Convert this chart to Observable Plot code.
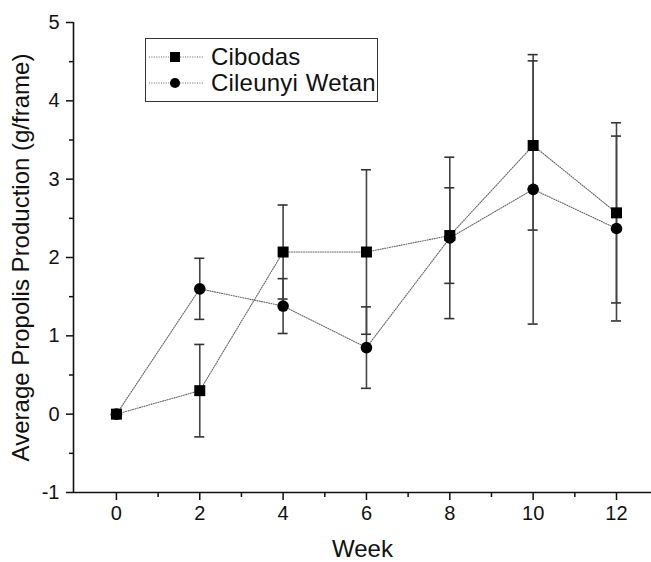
<!DOCTYPE html>
<html><head><meta charset="utf-8">
<script src="https://cdn.jsdelivr.net/npm/d3@7"></script>
<script src="https://cdn.jsdelivr.net/npm/@observablehq/plot@0.6"></script>
<style>
body{margin:0;background:#fff;font-family:"Liberation Sans",Arial,sans-serif}
#wrap{position:relative;width:651px;height:562px}
#legend{position:absolute;left:145px;top:38px;width:233px;height:64px;border:1.5px solid #333;box-sizing:border-box;background:#fff}
#legend .row{position:absolute;left:0;width:230px;height:26px;display:flex;align-items:center;white-space:nowrap}
#legend .row svg{flex:none}
#legend .row span{font-size:24px;color:#111;margin-left:5px;letter-spacing:0.2px;word-spacing:1px;line-height:26px;white-space:nowrap}
</style></head><body><div id="wrap"><div id="legend"></div></div>
<script>
const weeks = [0, 2, 4, 6, 8, 10, 12];
const seriesNames = ["Cibodas", "Cileunyi Wetan"];
const cibodas = [0, 0.30, 2.07, 2.07, 2.28, 3.43, 2.57];
const cibodasErr = [0, 0.59, 0.60, 1.05, 0.61, 1.08, 1.15];
const cileunyi = [0, 1.60, 1.38, 0.85, 2.25, 2.87, 2.37];
const cileunyiErr = [0, 0.39, 0.35, 0.52, 1.03, 1.72, 1.18];
const yTicks = [-1, 0, 1, 2, 3, 4, 5];
const yMinor = [-0.5, 0.5, 1.5, 2.5, 3.5, 4.5];
const xTicks = [0, 2, 4, 6, 8, 10, 12];
const xMinor = [1, 3, 5, 7, 9, 11];
const xDomain = [-1.03, 12.84];
const yDomain = [-1, 5];
const symbols = ["square", "circle"];
const yTitle = "Average Propolis Production (g/frame)";
const xTitle = "Week";

const rows = [];
[[cibodas, cibodasErr], [cileunyi, cileunyiErr]].forEach(([vals, errs], s) => {
  weeks.forEach((w, i) => rows.push({series: seriesNames[s], sym: symbols[s], week: w, value: vals[i], err: errs[i], lo: vals[i] - errs[i], hi: vals[i] + errs[i]}));
});
const withErr = rows.filter(d => d.err > 0);
const fmt = d => String(d);

const chart = Plot.plot({
  width: 651, height: 562,
  marginLeft: 73, marginRight: 0, marginTop: 22, marginBottom: 70,
  style: {fontFamily: "'Liberation Sans', Arial, sans-serif", fontSize: "20px", color: "#111", background: "#fff"},
  x: {domain: xDomain},
  y: {domain: yDomain},
  marks: [
    Plot.ruleX([xDomain[0]], {stroke: "#111", strokeWidth: 1.6}),
    Plot.ruleY([yDomain[0]], {stroke: "#111", strokeWidth: 1.6}),
    Plot.axisY(yTicks, {tickSize: 7, tickPadding: 7, strokeWidth: 1.5, fontSize: 20, tickFormat: fmt, label: null}),
    Plot.axisY([], {fontSize: 24, label: yTitle, labelAnchor: "center", labelOffset: 62, labelArrow: "none"}),
    Plot.axisY(yMinor, {tickSize: 4, strokeWidth: 1.5, text: null, label: null}),
    Plot.axisX(xTicks, {tickSize: 8, tickPadding: 5, strokeWidth: 1.5, fontSize: 20, tickFormat: fmt, label: null}),
    Plot.axisX([], {fontSize: 24, label: xTitle, labelAnchor: "center", labelOffset: 64, labelArrow: "none"}),
    Plot.axisX(xMinor, {tickSize: 5, strokeWidth: 1.5, text: null, label: null}),
    Plot.line(rows, {x: "week", y: "value", z: "series", stroke: "#666", strokeWidth: 1.1, strokeDasharray: "1 1.4"}),
    Plot.ruleX(withErr, {x: "week", y1: "lo", y2: "hi", stroke: "#444", strokeWidth: 1.6}),
    Plot.ruleY(withErr, {y: "hi", x1: "week", x2: "week", insetLeft: -5, insetRight: -5, stroke: "#333", strokeWidth: 1.6}),
    Plot.ruleY(withErr, {y: "lo", x1: "week", x2: "week", insetLeft: -5, insetRight: -5, stroke: "#333", strokeWidth: 1.6}),
    Plot.dot(rows.filter(d => d.sym === "square"), {x: "week", y: "value", symbol: "square", r: 6.2, fill: "#000"}),
    Plot.dot(rows.filter(d => d.sym === "circle"), {x: "week", y: "value", symbol: "circle", r: 5.8, fill: "#000"})
  ]
});
const wrap = document.getElementById("wrap");
wrap.insertBefore(chart, wrap.firstChild);
chart.style.position = "absolute"; chart.style.left = "0"; chart.style.top = "0";

// legend
const legend = document.getElementById("legend");
seriesNames.forEach((name, i) => {
  const row = document.createElement("div");
  row.className = "row";
  row.style.top = (5 + i * 26) + "px";
  const svg = d3.create("svg").attr("width", 60).attr("height", 26);
  svg.append("line").attr("x1", 3).attr("x2", 58).attr("y1", 13).attr("y2", 13)
    .attr("stroke", "#666").attr("stroke-width", 1.1).attr("stroke-dasharray", "1 1.4");
  svg.append("path").attr("transform", "translate(29,13)")
    .attr("d", d3.symbol(i === 0 ? d3.symbolSquare : d3.symbolCircle, i === 0 ? 100 : 80)())
    .attr("fill", "#000");
  row.appendChild(svg.node());
  const t = document.createElement("span"); t.textContent = name;
  row.appendChild(t);
  legend.appendChild(row);
});
</script></body></html>
